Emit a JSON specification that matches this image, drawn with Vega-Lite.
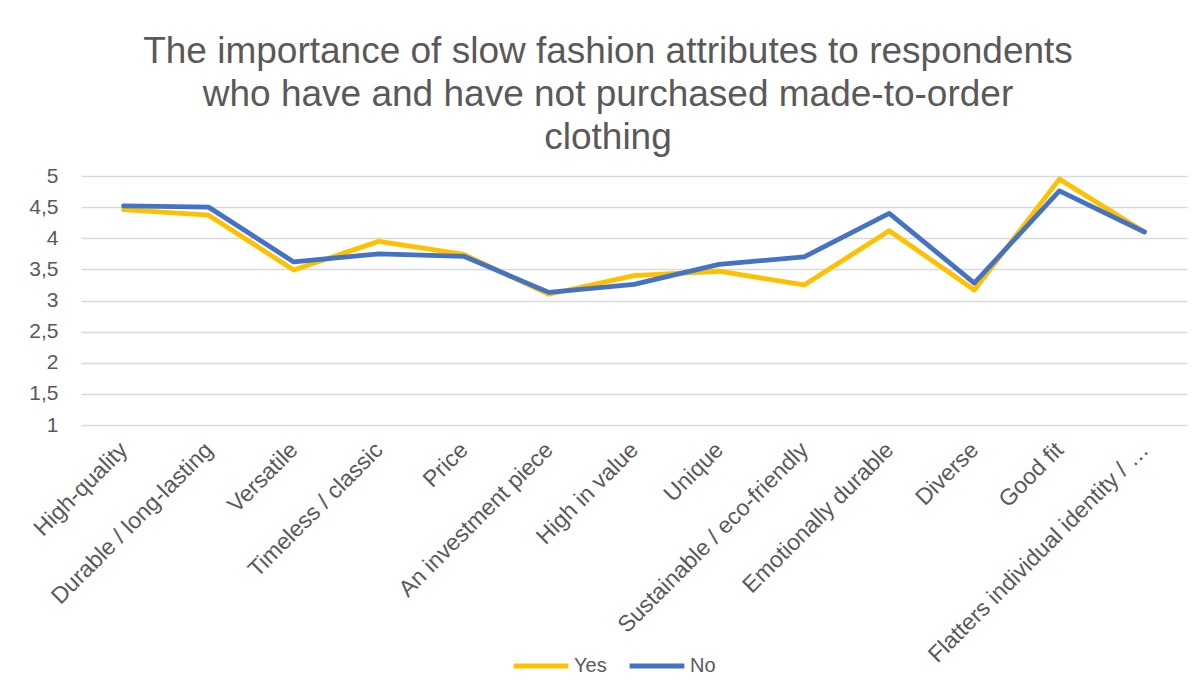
{
  "$schema": "https://vega.github.io/schema/vega-lite/v6.json",
  "width": 1106,
  "height": 249,
  "autosize": {"type": "none"},
  "padding": {"left": 81, "top": 176, "right": 16, "bottom": 275},
  "background": "white",
  "title": {
    "text": ["The importance of slow fashion attributes to respondents", "who have and have not purchased made-to-order", "clothing"],
    "font": "Liberation Sans",
    "fontSize": 37,
    "fontWeight": "normal",
    "color": "#595959",
    "lineHeight": 43,
    "anchor": "middle",
    "dx": -26,
    "offset": 8
  },
  "config": {
    "view": {"stroke": null},
    "axis": {"labelFont": "Liberation Sans", "labelColor": "#595959"}
  },
  "data": {
    "values": [
      {"attribute": "High-quality", "group": "Yes", "value": 4.46},
      {"attribute": "Durable / long-lasting", "group": "Yes", "value": 4.37},
      {"attribute": "Versatile", "group": "Yes", "value": 3.49},
      {"attribute": "Timeless / classic", "group": "Yes", "value": 3.95},
      {"attribute": "Price", "group": "Yes", "value": 3.74},
      {"attribute": "An investment piece", "group": "Yes", "value": 3.1},
      {"attribute": "High in value", "group": "Yes", "value": 3.4},
      {"attribute": "Unique", "group": "Yes", "value": 3.47},
      {"attribute": "Sustainable / eco-friendly", "group": "Yes", "value": 3.25},
      {"attribute": "Emotionally durable", "group": "Yes", "value": 4.12},
      {"attribute": "Diverse", "group": "Yes", "value": 3.17},
      {"attribute": "Good fit", "group": "Yes", "value": 4.95},
      {"attribute": "Flatters individual identity / …", "group": "Yes", "value": 4.1},
      {"attribute": "High-quality", "group": "No", "value": 4.52},
      {"attribute": "Durable / long-lasting", "group": "No", "value": 4.5},
      {"attribute": "Versatile", "group": "No", "value": 3.62},
      {"attribute": "Timeless / classic", "group": "No", "value": 3.75},
      {"attribute": "Price", "group": "No", "value": 3.71},
      {"attribute": "An investment piece", "group": "No", "value": 3.13},
      {"attribute": "High in value", "group": "No", "value": 3.26},
      {"attribute": "Unique", "group": "No", "value": 3.58},
      {"attribute": "Sustainable / eco-friendly", "group": "No", "value": 3.7},
      {"attribute": "Emotionally durable", "group": "No", "value": 4.4},
      {"attribute": "Diverse", "group": "No", "value": 3.28},
      {"attribute": "Good fit", "group": "No", "value": 4.76},
      {"attribute": "Flatters individual identity / …", "group": "No", "value": 4.1}
    ]
  },
  "mark": {"type": "line", "strokeWidth": 4.8, "strokeJoin": "round", "strokeCap": "round"},
  "encoding": {
    "x": {
      "field": "attribute",
      "type": "nominal",
      "sort": null,
      "scale": {"type": "point", "padding": 0.5},
      "axis": {
        "title": null,
        "labelAngle": -45,
        "labelAlign": "right",
        "labelBaseline": "middle",
        "labelFontSize": 23,
        "labelPadding": 21,
        "labelLimit": 500,
        "labelOverlap": false,
        "ticks": false,
        "domain": false,
        "grid": false
      }
    },
    "y": {
      "field": "value",
      "type": "quantitative",
      "scale": {"domain": [1, 5], "nice": false, "zero": false},
      "axis": {
        "title": null,
        "values": [1, 1.5, 2, 2.5, 3, 3.5, 4, 4.5, 5],
        "labelExpr": "replace(toString(datum.value), '.', ',')",
        "labelFontSize": 21,
        "labelPadding": 23,
        "ticks": false,
        "domain": false,
        "grid": true,
        "gridColor": "#d9d9d9",
        "gridWidth": 1.5
      }
    },
    "color": {
      "field": "group",
      "type": "nominal",
      "sort": ["Yes", "No"],
      "scale": {"domain": ["Yes", "No"], "range": ["#FFC000", "#4472C4"]},
      "legend": {
        "title": null,
        "orient": "none",
        "direction": "horizontal",
        "legendX": 430,
        "legendY": 460,
        "symbolType": "stroke",
        "symbolStrokeWidth": 5,
        "symbolSize": 3000,
        "labelOffset": 3,
        "labelFont": "Liberation Sans",
        "labelFontSize": 20,
        "labelColor": "#595959",
        "columnPadding": 12
      }
    },
    "order": {"field": "group", "sort": "descending"}
  }
}
